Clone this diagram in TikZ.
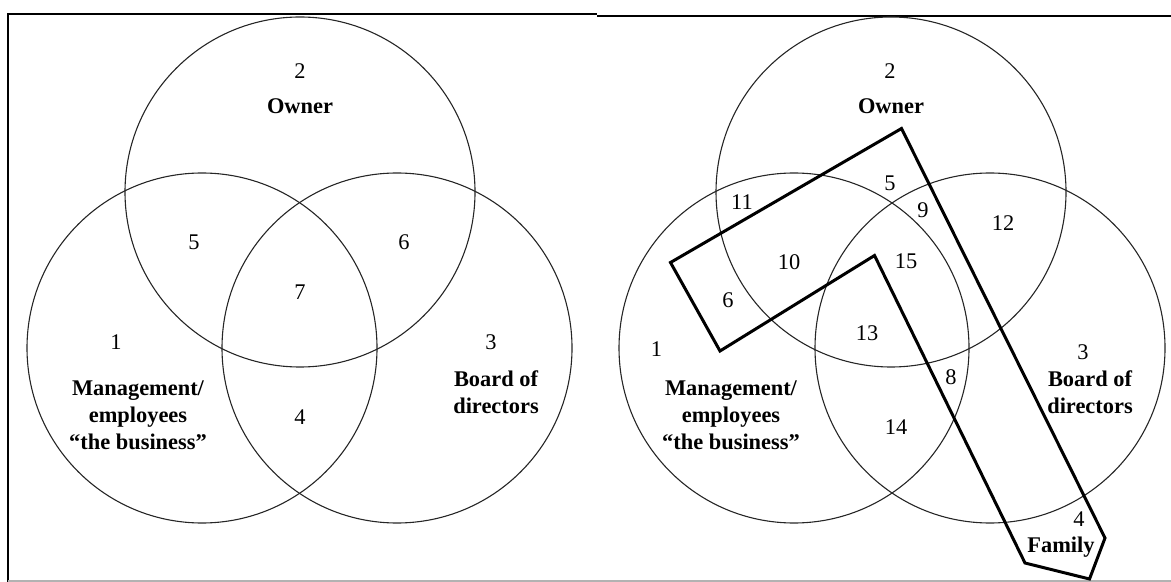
\documentclass[tikz,border=0pt]{standalone}
\usepackage{fontspec}
\setmainfont{Liberation Serif}
\begin{document}
\begin{tikzpicture}[x=0.5pt,y=-0.5pt,
  ring/.style={draw=black!85, line width=0.55pt},
  famline/.style={draw=black, line width=1.5pt, line join=miter},
  num/.style={font=\fontsize{11.2}{13.5}\selectfont, inner sep=0pt},
  lbl/.style={font=\fontsize{11.2}{13.5}\selectfont\bfseries, align=center, inner sep=0pt},
]
\useasboundingbox (0,0) rectangle (1171,582);

% page frame
\draw[line width=1pt] (7.5,582) -- (7.5,14) -- (597,14);
\draw[line width=1pt] (597,16) -- (1171,16);
\draw[black!30, line width=0.6pt] (8,581) -- (1171,581);

% ---- three-circle model ----
\coordinate (Lown) at (300,192);
\coordinate (Lman) at (202,348);
\coordinate (Lbrd) at (397,348);
\draw[ring] (Lown) circle[radius=87.5pt];
\draw[ring] (Lman) circle[radius=87.5pt];
\draw[ring] (Lbrd) circle[radius=87.5pt];

\node[num] (l2) at (300,71) {2};
\node[lbl] (lowner) at (300,106) {Owner};
\node[num] (l5) at (194,242) {5};
\node[num] (l6) at (404,242) {6};
\node[num] (l7) at (300,292) {7};
\node[num] (l1) at (116,342) {1};
\node[num] (l3) at (491,342) {3};
\node[num] (l4) at (300,417) {4};
\node[lbl] (lman) at (138,415) {Management/\\employees\\“the business”};
\node[lbl] (lbrd) at (496,392) {Board of\\directors};

% ---- four-system model with family ----
\coordinate (Rown) at (891,192);
\coordinate (Rman) at (794,348);
\coordinate (Rbrd) at (990,348);
\draw[ring] (Rown) circle[radius=87.5pt];
\draw[ring] (Rman) circle[radius=87.5pt];
\draw[ring] (Rbrd) circle[radius=87.5pt];

\coordinate (fA) at (901.5,128.5);
\coordinate (fB) at (670.5,262.5);
\coordinate (fC) at (720,351);
\coordinate (fD) at (874.5,255.5);
\coordinate (fE) at (1025,563);
\coordinate (fF) at (1089.5,579);
\coordinate (fG) at (1105,538);
\draw[famline] (fA) -- (fB) -- (fC) -- (fD) -- (fE) -- (fF) -- (fG) -- cycle;

\node[num] (r2) at (890,71) {2};
\node[lbl] (rowner) at (891,106) {Owner};
\node[num] (r5) at (890,183) {5};
\node[num] (r11) at (742,202) {11};
\node[num] (r9) at (923,210) {9};
\node[num] (r12) at (1003,223) {12};
\node[num] (r10) at (789,262) {10};
\node[num] (r15) at (906,261) {15};
\node[num] (r6) at (728,300) {6};
\node[num] (r13) at (867,333) {13};
\node[num] (r1) at (656.5,349) {1};
\node[num] (r8) at (951,377) {8};
\node[num] (r3) at (1083,352) {3};
\node[num] (r14) at (896,427) {14};
\node[num] (r4) at (1079,519) {4};
\node[lbl] (rman) at (731,415) {Management/\\employees\\“the business”};
\node[lbl] (rbrd) at (1090,392) {Board of\\directors};
\node[lbl] (rfam) at (1061,547) {Family};
\end{tikzpicture}
\end{document}
